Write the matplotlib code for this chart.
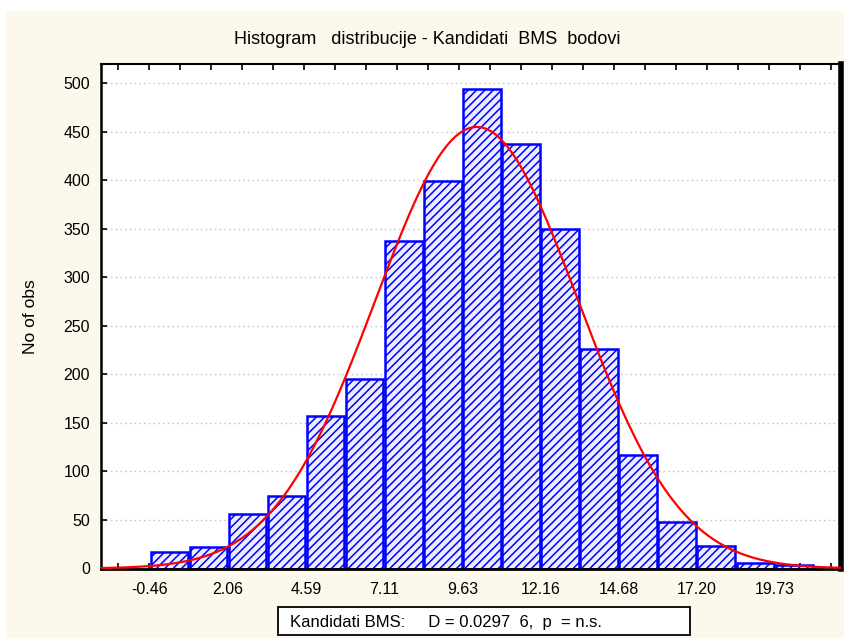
import numpy as np
import matplotlib
matplotlib.use("Agg")
import matplotlib.pyplot as plt
from matplotlib.patches import Rectangle

plt.rcParams['font.family'] = ['Liberation Sans', 'DejaVu Sans']
plt.rcParams['hatch.linewidth'] = 1.1

# histogram data
counts = [17, 22, 56, 75, 157, 195, 338, 399, 494, 438, 350, 226, 117, 48, 23, 6, 4]
first_edge = -0.46
bin_width = 1.262
tick_labels = ["-0.46", "2.06", "4.59", "7.11", "9.63", "12.16", "14.68", "17.20", "19.73"]

# fitted normal curve
mu = 10.10
sigma = 3.28

title = "Histogram   distribucije - Kandidati  BMS  bodovi"
ylabel = "No of obs"
stat_text = "Kandidati BMS:     D = 0.0297  6,  p  = n.s."

cream = '#FDF8EC'
W, H = 845, 638

fig = plt.figure(figsize=(8.45, 6.38), dpi=100)
fig.patch.set_facecolor('white')
fig.add_artist(Rectangle((6 / W, 0), 1, 1 - 11 / H, transform=fig.transFigure,
                         facecolor=cream, edgecolor='none', zorder=-5))

ax = fig.add_axes([101 / W, 1 - 568.5 / H, (841 - 101) / W, (568.5 - 64) / H])
ax.set_facecolor('white')

edges = first_edge + bin_width * np.arange(len(counts))
ax.bar(edges + bin_width * 0.02, counts, width=bin_width * 0.96, align='edge',
       facecolor='#ECECFF', edgecolor='#0000FF', linewidth=1.8, hatch='////', zorder=2)

xmin, xmax = -2.04, 21.87
xs = np.linspace(xmin, xmax, 500)
n = sum(counts)
ys = n * bin_width / (sigma * np.sqrt(2 * np.pi)) * np.exp(-0.5 * ((xs - mu) / sigma) ** 2)
ax.plot(xs, ys, color='#FF0000', linewidth=1.6, zorder=3)

ax.set_xlim(xmin, xmax)
ax.set_ylim(0, 520)

# labels at every second bin edge, small ticks at unit steps
ax.set_xticks(edges[::2])
ax.set_xticklabels(tick_labels)
ax.set_xticks(np.arange(-1.49, 21.6, 1.0016), minor=True)
ax.tick_params(axis='x', which='major', length=0, pad=10, labelsize=11.5)
ax.tick_params(axis='x', which='minor', direction='in', length=4, width=1.2,
               top=True, bottom=True)
ax.set_yticks(np.arange(0, 501, 50))
ax.tick_params(axis='y', which='major', direction='in', length=4, width=1.2,
               pad=8, labelsize=11.5, right=False)

ax.yaxis.grid(True, linestyle=(0, (1.2, 2.2)), color='#C8C8C8', linewidth=1)
ax.set_axisbelow(True)

for side, lw in [('left', 1.8), ('bottom', 2), ('top', 1.5), ('right', 4)]:
    ax.spines[side].set_linewidth(lw)
    ax.spines[side].set_color('black')

fig.text(427.5 / W, 1 - 40 / H, title, ha='center', va='center', fontsize=13)
fig.text(31 / W, 1 - 317 / H, ylabel, rotation=90, ha='center', va='center', fontsize=12.5)

fig.add_artist(Rectangle((278 / W, 1 - 635 / H), (690 - 278) / W, (635 - 607) / H,
                         transform=fig.transFigure, facecolor='white',
                         edgecolor='black', linewidth=1.3))
fig.text(290 / W, 1 - 622 / H, stat_text, ha='left', va='center', fontsize=12)

fig.savefig("out.png", dpi=100, facecolor=fig.get_facecolor())
